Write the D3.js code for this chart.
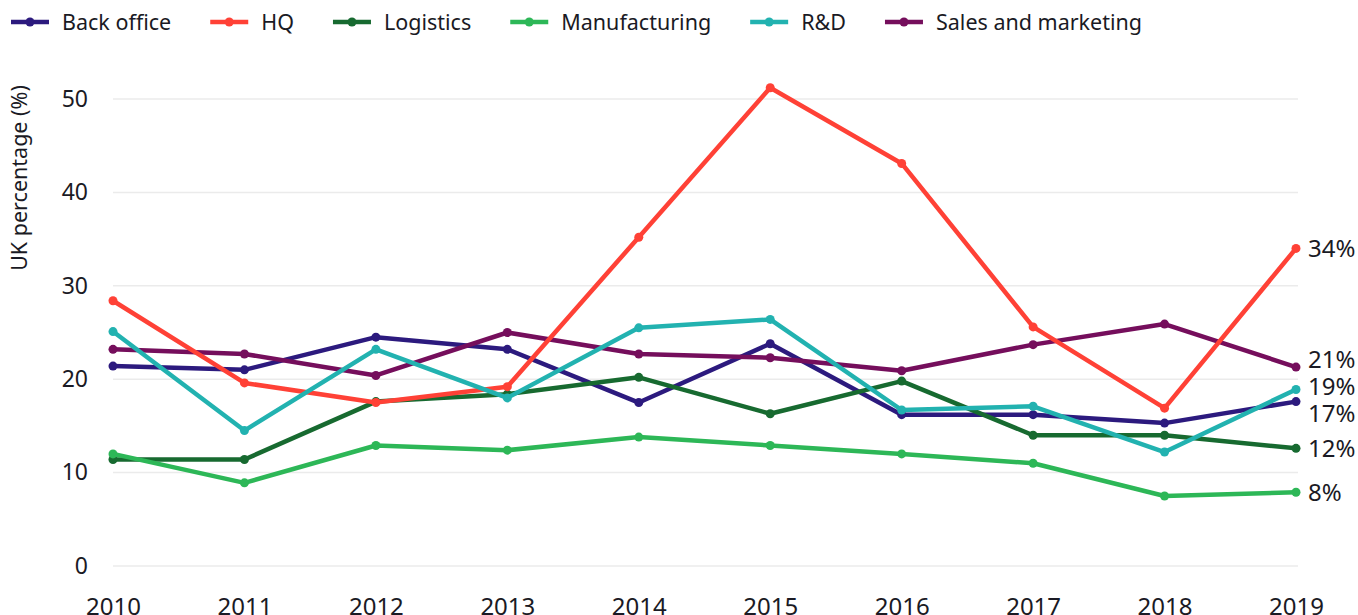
<!DOCTYPE html>
<html>
<head>
<meta charset="utf-8">
<script src="https://cdn.jsdelivr.net/npm/d3@7"></script>
<style>
  body { margin: 0; background: #fff; }
  svg { display: block; font-family: "Noto Sans", sans-serif; }
</style>
</head>
<body>
<div id="chart"></div>
<script>
// values
var years = [2010, 2011, 2012, 2013, 2014, 2015, 2016, 2017, 2018, 2019];
var seriesNames = ["Back office", "HQ", "Logistics", "Manufacturing", "R&D", "Sales and marketing"];
var seriesColors = ["#2c1a7e", "#ff4136", "#176a30", "#2db757", "#22b2b0", "#750e5c"];
var backOffice = [21.4, 21.0, 24.5, 23.2, 17.5, 23.8, 16.2, 16.2, 15.3, 17.6];
var hq = [28.4, 19.6, 17.5, 19.2, 35.2, 51.2, 43.1, 25.6, 16.9, 34.0];
var logistics = [11.4, 11.4, 17.6, 18.4, 20.2, 16.3, 19.8, 14.0, 14.0, 12.6];
var manufacturing = [12.0, 8.9, 12.9, 12.4, 13.8, 12.9, 12.0, 11.0, 7.5, 7.9];
var rnd = [25.1, 14.5, 23.2, 18.0, 25.5, 26.4, 16.7, 17.1, 12.2, 18.9];
var salesMarketing = [23.2, 22.7, 20.4, 25.0, 22.7, 22.3, 20.9, 23.7, 25.9, 21.3];
var yTicks = [0, 10, 20, 30, 40, 50];
var endLabels = ["17%", "34%", "12%", "8%", "19%", "21%"];

var series = seriesNames.map(function(n, i) {
  return { name: n, color: seriesColors[i], label: endLabels[i],
    values: [backOffice, hq, logistics, manufacturing, rnd, salesMarketing][i] };
});
// drawing order (R&D and HQ sit on top in the picture)
var drawOrder = [0, 5, 2, 3, 1, 4];

var W = 1358, H = 615;
var svg = d3.select("#chart").append("svg").attr("width", W).attr("height", H);

var x = d3.scalePoint().domain(years).range([113, 1296]);
var y = d3.scaleLinear().domain([0, 50]).range([566, 99]);
var textCol = "#1a1a24";

// gridlines
svg.append("g").selectAll("line").data(yTicks).enter().append("line")
  .attr("x1", 113).attr("x2", 1298)
  .attr("y1", function(d) { return y(d); }).attr("y2", function(d) { return y(d); })
  .attr("stroke", "#ebebeb").attr("stroke-width", 1.5);

// y axis labels
var yAxis = svg.append("g").attr("transform", "translate(88,0)")
  .call(d3.axisLeft(y).tickValues(yTicks).tickSize(0).tickPadding(0));
yAxis.select(".domain").remove();
yAxis.selectAll("text").attr("font-size", 23).attr("fill", textCol)
  .attr("font-family", "Noto Sans, sans-serif");

svg.append("text")
  .attr("transform", "translate(27,178) rotate(-90)")
  .attr("text-anchor", "middle").attr("font-size", 21.5).attr("fill", textCol)
  .text("UK percentage (%)");

// x axis labels (cut by the bottom edge, as in the original)
var xAxis = svg.append("g").attr("transform", "translate(0,592)")
  .call(d3.axisBottom(x).tickSize(0).tickPadding(0).tickFormat(d3.format("d")));
xAxis.select(".domain").remove();
xAxis.selectAll("text").attr("font-size", 24).attr("fill", textCol)
  .attr("font-family", "Noto Sans, sans-serif").attr("dy", "0.95em");

// lines
var line = d3.line()
  .x(function(d, i) { return x(years[i]); })
  .y(function(d) { return y(d); });

var lines = svg.append("g");
drawOrder.forEach(function(k) {
  var s = series[k];
  var g = lines.append("g");
  g.append("path").datum(s.values).attr("d", line)
    .attr("fill", "none").attr("stroke", s.color).attr("stroke-width", 4.5)
    .attr("stroke-linejoin", "round");
  g.selectAll("circle").data(s.values).enter().append("circle")
    .attr("cx", function(d, i) { return x(years[i]); })
    .attr("cy", function(d) { return y(d); })
    .attr("r", 4.5).attr("fill", s.color);
});

// end labels, nudged apart so they do not collide
var lab = series.map(function(s) {
  return { text: s.label, y0: y(s.values[s.values.length - 1]) };
}).sort(function(a, b) { return a.y0 - b.y0; });
var gap = 27;
var blocks = lab.map(function(d) { return [d]; });
function place(b) {
  var mean = d3.mean(b, function(d) { return d.y0; });
  var start = mean - (b.length - 1) * gap / 2;
  b.forEach(function(d, i) { d.y = start + i * gap; });
}
blocks.forEach(place);
var merged = true;
while (merged) {
  merged = false;
  for (var j = 1; j < blocks.length; j++) {
    var a = blocks[j - 1], b = blocks[j];
    if (b[0].y - a[a.length - 1].y < gap) {
      blocks.splice(j - 1, 2, a.concat(b));
      place(blocks[j - 1]);
      merged = true;
      break;
    }
  }
}
svg.append("g").selectAll("text").data(lab).enter().append("text")
  .attr("x", 1308).attr("y", function(d) { return d.y; })
  .attr("dy", "0.36em").attr("font-size", 24).attr("fill", textCol)
  .text(function(d) { return d.text; });

// legend
var legend = svg.append("g").attr("transform", "translate(11,22)");
var lx = 0;
series.forEach(function(s) {
  var item = legend.append("g").attr("transform", "translate(" + lx + ",0)");
  item.append("line").attr("x1", 0).attr("x2", 38).attr("y1", 0).attr("y2", 0)
    .attr("stroke", s.color).attr("stroke-width", 4.5);
  item.append("circle").attr("cx", 19).attr("cy", 0).attr("r", 4.5).attr("fill", s.color);
  var t = item.append("text").attr("x", 51).attr("dy", "0.35em")
    .attr("font-size", 21.5).attr("fill", textCol).text(s.name);
  lx += 51 + t.node().getComputedTextLength() + 39;
});
</script>
</body>
</html>
